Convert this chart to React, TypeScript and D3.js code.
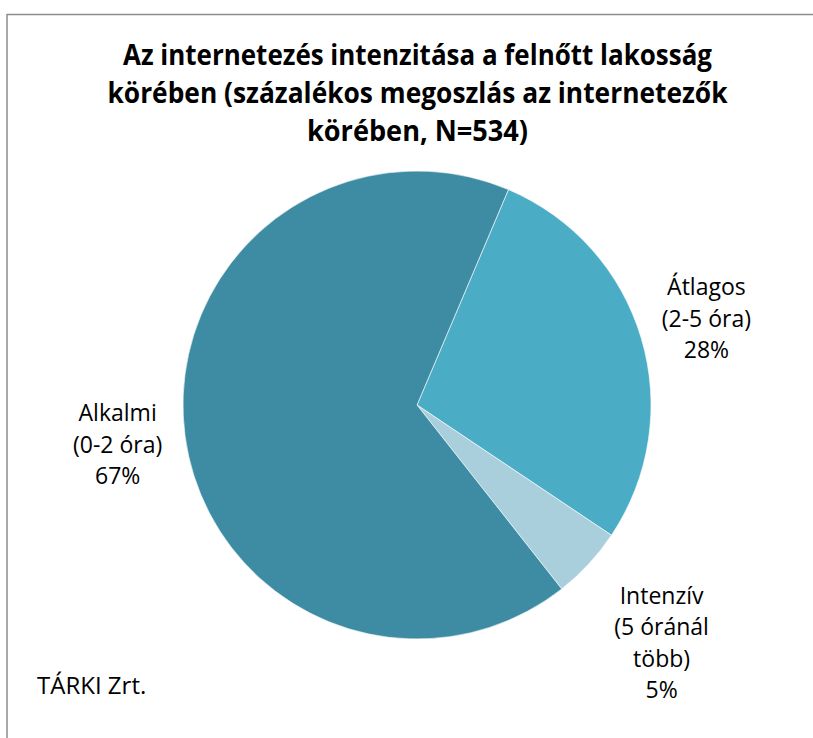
import React from 'react';
import * as d3 from 'd3';

const titleLines = [
  'Az internetezés intenzitása a felnőtt lakosság',
  'körében (százalékos megoszlás az internetezők',
  'körében, N=534)',
];
const categories = ['Átlagos', 'Intenzív', 'Alkalmi'];
const labelLines = [['Átlagos', '(2-5 óra)'], ['Intenzív', '(5 óránál', 'több)'], ['Alkalmi', '(0-2 óra)']];
const values = [28, 5, 67];
const colors = ['#4BACC6', '#A9CFDC', '#3D8CA3'];
const source = 'TÁRKI Zrt.';

const App = () => {
  const width = 813;
  const height = 738;
  const cx = 417;
  const cy = 405;
  const radius = 234;
  const startAngle = (23 * Math.PI) / 180;

  const pie = d3
    .pie<number>()
    .sort(null)
    .startAngle(startAngle)
    .endAngle(startAngle + 2 * Math.PI);
  const arcs = pie(values);
  const arc = d3.arc<d3.PieArcDatum<number>>().innerRadius(0).outerRadius(radius);
  const labelArc = d3.arc<d3.PieArcDatum<number>>().innerRadius(302).outerRadius(302);
  // Excel pushes the small slice's label a bit further out
  const nudge = [
    [0, 0],
    [23, 33],
    [0, 0],
  ];
  const fmt = d3.format('.0%');
  const total = d3.sum(values);
  const lineH = 31.5;
  const titleWidths = [589, 620, 221];

  return (
    <svg width={width} height={height} style={{ position: 'absolute', left: 0, top: 0 }}>
      <rect x={0} y={0} width={width} height={height} fill="#fff" />
      <line x1={7} y1={14.5} x2={width} y2={14.5} stroke="#8c8c8c" strokeWidth={1.5} />
      <line x1={7} y1={14} x2={7} y2={height} stroke="#8c8c8c" strokeWidth={1.5} />
      <g fontFamily="'Open Sans', sans-serif" fontWeight="bold" fontSize={28} fill="#000" textAnchor="middle">
        {titleLines.map((t, i) => (
          <text key={i} x={417.5} y={65 + i * 38} textLength={titleWidths[i]} lengthAdjust="spacingAndGlyphs">
            {t}
          </text>
        ))}
      </g>
      <g transform={`translate(${cx},${cy})`}>
        {arcs.map((a, i) => (
          <path key={categories[i]} d={arc(a) || ''} fill={colors[i]} stroke="#fff" strokeWidth={0.6} />
        ))}
      </g>
      <g fontFamily="'Open Sans', sans-serif" fontSize={23} fill="#000" textAnchor="middle">
        {arcs.map((a, i) => {
          const [lx, ly] = labelArc.centroid(a);
          const lines = [...labelLines[i], fmt(values[i] / total)];
          const x = cx + lx + nudge[i][0];
          const y0 = cy + ly + nudge[i][1] - ((lines.length - 1) * lineH) / 2;
          return (
            <text key={categories[i]}>
              {lines.map((l, j) => (
                <tspan key={j} x={x} y={y0 + j * lineH + 8}>
                  {l}
                </tspan>
              ))}
            </text>
          );
        })}
      </g>
      <text x={37} y={694} fontFamily="'Open Sans', sans-serif" fontSize={24} fill="#000">
        {source}
      </text>
    </svg>
  );
};

export default App;
